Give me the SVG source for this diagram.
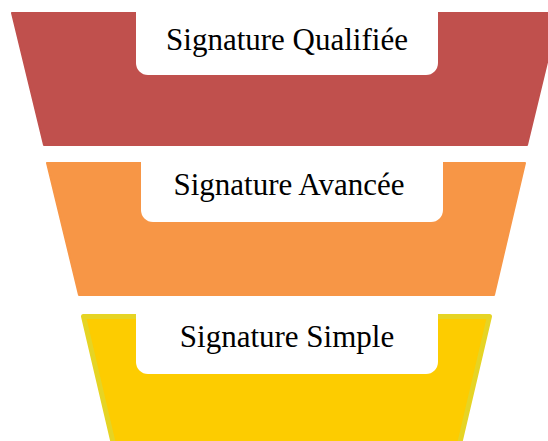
<svg xmlns="http://www.w3.org/2000/svg" width="548" height="441" viewBox="0 0 548 441">
<style>
.lbl{font-family:"Liberation Serif","Times New Roman",serif;font-size:31px;fill:#000;text-anchor:middle}
.cut{fill:#fff}
</style>
<rect width="548" height="441" fill="#fff"/>
<g id="level-qualifiee">
<polygon points="12,13 559,13 527,145 44,145" fill="#C0504D" stroke="#C0504D" stroke-width="2" stroke-linejoin="round"/>
<rect class="cut" x="136" y="-12" width="302" height="87" rx="12"/>
<text class="lbl" x="287" y="50">Signature Qualifiée</text>
</g>
<g id="level-avancee">
<polygon points="47,163 525,163 494,295 79,295" fill="#F79646" stroke="#F79646" stroke-width="2" stroke-linejoin="round"/>
<rect class="cut" x="141" y="150" width="302" height="72" rx="12"/>
<text class="lbl" x="289" y="195">Signature Avancée</text>
</g>
<g id="level-simple">
<polygon points="83.5,316.5 489.5,316.5 457,455 116,455" fill="#FDCC00" stroke="#E6D424" stroke-width="5" stroke-linejoin="round"/>
<rect class="cut" x="136" y="300" width="302" height="74" rx="12"/>
<text class="lbl" x="287" y="347">Signature Simple</text>
</g>
<g id="connectors"/>
</svg>
